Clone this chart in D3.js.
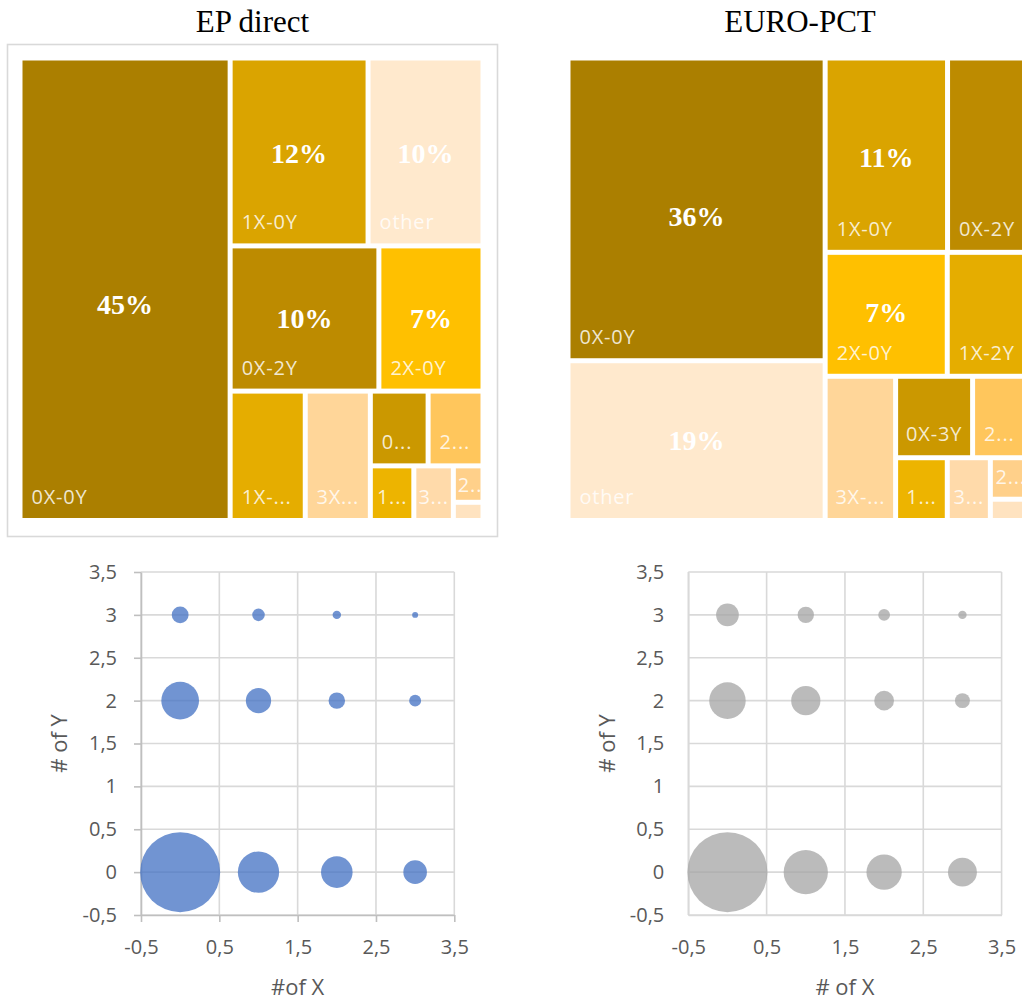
<!DOCTYPE html>
<html>
<head>
<meta charset="utf-8">
<script src="https://cdn.jsdelivr.net/npm/d3@7"></script>
<style>
  body { margin: 0; background: #fff; }
  svg { display: block; }
</style>
</head>
<body>
<svg id="chart" width="1022" height="1000"></svg>
<script>
// Filing-route breakdown: share of applications by number of X / Y claims
const categories = ["0X-0Y", "1X-0Y", "other", "0X-2Y", "2X-0Y", "1X-2Y", "3X-0Y",
                    "0X-3Y", "2X-2Y", "1X-3Y", "3X-2Y", "2X-3Y", "3X-3Y"];
const numX = [0, 1, null, 0, 2, 1, 3, 0, 2, 1, 3, 2, 3];
const numY = [0, 0, null, 2, 0, 2, 0, 3, 2, 3, 2, 3, 3];
const epDirect = [45, 12, 10, 10, 7, 4.5, 3.9, 2.0, 1.9, 1.1, 1.0, 0.5, 0.25];
const euroPct  = [36, 11, 19, 7.5, 7, 4.8, 4.7, 2.9, 2.2, 1.5, 1.25, 0.78, 0.4];
const categoryColors = ["#AB7F00", "#DAA400", "#FFE9CD", "#BD8B00", "#FFC000", "#E5AD00", "#FFD699",
                        "#CB9800", "#FFC65C", "#EDB400", "#FFDAAA", "#FFD08A", "#FFE3C0"];
const epPercentShown   = ["0X-0Y", "1X-0Y", "other", "0X-2Y", "2X-0Y"];
const euroPercentShown = ["0X-0Y", "1X-0Y", "other", "2X-0Y"];
// number of tiles placed in each successive strip of the treemap
const epRows   = [1, 2, 2, 1, 1, 2, 1, 1, 1, 1];
const euroRows = [2, 2, 2, 1, 2, 1, 1, 1, 1];
const xTicks = [-0.5, 0.5, 1.5, 2.5, 3.5];
const yTicks = [-0.5, 0, 0.5, 1, 1.5, 2, 2.5, 3, 3.5];

const svg = d3.select("#chart");
const LABEL_FONT = "'Open Sans', 'DejaVu Sans', sans-serif";
const SERIF = "'Liberation Serif', 'Times New Roman', serif";

// Strip tiling: each strip runs along the shorter side of the remaining space
function stripTile(rowSizes) {
  return function (parent, x0, y0, x1, y1) {
    const nodes = parent.children;
    let value = parent.value, i0 = 0;
    for (const size of rowSizes) {
      const row = { children: nodes.slice(i0, i0 + size) };
      row.value = d3.sum(row.children, d => d.value);
      const dx = x1 - x0, dy = y1 - y0;
      if (dx < dy) {
        const yy = value ? y0 + dy * row.value / value : y1;
        d3.treemapDice(row, x0, y0, x1, yy);
        y0 = yy;
      } else {
        const xx = value ? x0 + dx * row.value / value : x1;
        d3.treemapSlice(row, x0, y0, xx, y1);
        x0 = xx;
      }
      value -= row.value;
      i0 += size;
    }
  };
}

function fitLabel(sel, full, maxW) {
  sel.text(full);
  if (sel.node().getComputedTextLength() <= maxW) return;
  for (let n = full.length - 1; n >= 1; n--) {
    sel.text(full.slice(0, n) + "...");
    if (sel.node().getComputedTextLength() <= maxW) return;
  }
}

function drawTreemap(cfg) {
  const items = categories.map((c, i) => ({ name: c, value: cfg.values[i], color: categoryColors[i] }));
  const root = d3.hierarchy({ children: items })
    .sum(d => d.value || 0)
    .sort((a, b) => b.value - a.value);
  d3.treemap().size([cfg.w, cfg.h]).paddingInner(5).tile(stripTile(cfg.rows))(root);

  const g = svg.append("g").attr("transform", `translate(${cfg.x},${cfg.y})`);
  const cells = g.selectAll("g.cell").data(root.leaves()).join("g").attr("class", "cell");
  cells.append("rect")
    .attr("x", d => d.x0).attr("y", d => d.y0)
    .attr("width", d => d.x1 - d.x0).attr("height", d => d.y1 - d.y0)
    .attr("fill", d => d.data.color);

  cells.each(function (d) {
    const w = d.x1 - d.x0, h = d.y1 - d.y0;
    if (h < 24) return;
    const t = d3.select(this).append("text")
      .attr("font-family", LABEL_FONT).attr("font-size", 20)
      .attr("letter-spacing", 0.8)
      .attr("fill", "#fff").attr("fill-opacity", 0.82)
      .attr("y", Math.max(d.y1 - 14, d.y0 + 24));
    fitLabel(t, d.data.name, w - 15);
    const tw = t.node().getComputedTextLength();
    const off = Math.max(2, Math.min(9, (w - tw) / 2));
    t.attr("x", d.x0 + off);
  });

  cells.filter(d => cfg.percentShown.includes(d.data.name))
    .append("text")
    .attr("x", d => (d.x0 + d.x1) / 2)
    .attr("y", d => (d.y0 + d.y1) / 2 + 0.05 * (d.y1 - d.y0 - 150))
    .attr("text-anchor", "middle").attr("dominant-baseline", "central")
    .attr("font-family", SERIF).attr("font-weight", "bold").attr("font-size", 28)
    .attr("fill", "#fff")
    .text(d => Math.round(d.value) + "%");

  svg.append("text")
    .attr("x", cfg.titleX).attr("y", 32)
    .attr("text-anchor", "middle")
    .attr("font-family", SERIF).attr("font-size", 31).attr("fill", "#000")
    .text(cfg.title);
}

// chart frame around the first treemap
svg.append("rect")
  .attr("x", 7.5).attr("y", 44.5).attr("width", 490).attr("height", 492)
  .attr("fill", "none").attr("stroke", "#D9D9D9").attr("stroke-width", 1.6);

drawTreemap({ title: "EP direct", titleX: 252.5, values: epDirect, rows: epRows,
              percentShown: epPercentShown, x: 22.5, y: 60.5, w: 458, h: 457.5 });
drawTreemap({ title: "EURO-PCT", titleX: 800, values: euroPct, rows: euroRows,
              percentShown: euroPercentShown, x: 570.5, y: 60.5, w: 458, h: 457.5 });

const fmt = d => String(d).replace(".", ",");

function drawBubbles(cfg) {
  const x = d3.scaleLinear().domain([-0.5, 3.5]).range([cfg.left, cfg.left + 313.3]);
  const y = d3.scaleLinear().domain([-0.5, 3.5]).range([915, 572]);
  const g = svg.append("g");

  // gridlines
  g.append("g").selectAll("line").data(yTicks).join("line")
    .attr("x1", x(-0.5)).attr("x2", x(3.5))
    .attr("y1", d => y(d)).attr("y2", d => y(d))
    .attr("stroke", "#D9D9D9").attr("stroke-width", 1.6);
  g.append("g").selectAll("line").data(xTicks).join("line")
    .attr("x1", d => x(d)).attr("x2", d => x(d))
    .attr("y1", y(-0.5)).attr("y2", y(3.5))
    .attr("stroke", "#D9D9D9").attr("stroke-width", 1.6);

  // axes
  const tick = cfg.tickMarks ? 7 : 0;
  const yAxis = g.append("g").attr("transform", `translate(${x(-0.5)},0)`)
    .call(d3.axisLeft(y).tickValues(yTicks).tickFormat(fmt)
      .tickSize(tick).tickSizeOuter(0).tickPadding(24 - tick));
  const xAxis = g.append("g").attr("transform", `translate(0,${y(-0.5)})`)
    .call(d3.axisBottom(x).tickValues(xTicks).tickFormat(fmt)
      .tickSize(tick).tickSizeOuter(0).tickPadding(25 - tick));
  [yAxis, xAxis].forEach(a => {
    a.attr("font-family", LABEL_FONT).attr("font-size", 20);
    a.select(".domain").attr("stroke", cfg.axisColor).attr("stroke-width", 1.6);
    a.selectAll(".tick line").attr("stroke", cfg.axisColor).attr("stroke-width", 1.6);
    a.selectAll(".tick text").attr("fill", "#595959");
  });

  // bubbles: area proportional to share
  const pts = categories.map((c, i) => ({ x: numX[i], y: numY[i], v: cfg.values[i] }))
    .filter(p => p.x !== null);
  const r = d3.scaleSqrt().domain([0, d3.max(pts, p => p.v)]).range([0, 40]);
  g.append("g").selectAll("circle").data(pts).join("circle")
    .attr("cx", p => x(p.x)).attr("cy", p => y(p.y)).attr("r", p => r(p.v))
    .attr("fill", cfg.color).attr("fill-opacity", 0.76);

  // axis titles
  g.append("text")
    .attr("transform", `translate(${cfg.yTitleX},${(y(-0.5) + y(3.5)) / 2}) rotate(-90)`)
    .attr("text-anchor", "middle").attr("dominant-baseline", "central")
    .attr("font-family", LABEL_FONT).attr("font-size", 22).attr("fill", "#595959")
    .text("# of Y");
  g.append("text")
    .attr("x", (x(-0.5) + x(3.5)) / 2).attr("y", 995)
    .attr("text-anchor", "middle")
    .attr("font-family", LABEL_FONT).attr("font-size", 22).attr("fill", "#595959")
    .text(cfg.xTitle);
}

drawBubbles({ left: 141, values: epDirect, color: "#4472C4", tickMarks: true,
              axisColor: "#BFBFBF", yTitleX: 58, xTitle: "#of X" });
drawBubbles({ left: 688.3, values: euroPct, color: "#A5A5A5", tickMarks: false,
              axisColor: "#D9D9D9", yTitleX: 606, xTitle: "# of X" });
</script>
</body>
</html>
